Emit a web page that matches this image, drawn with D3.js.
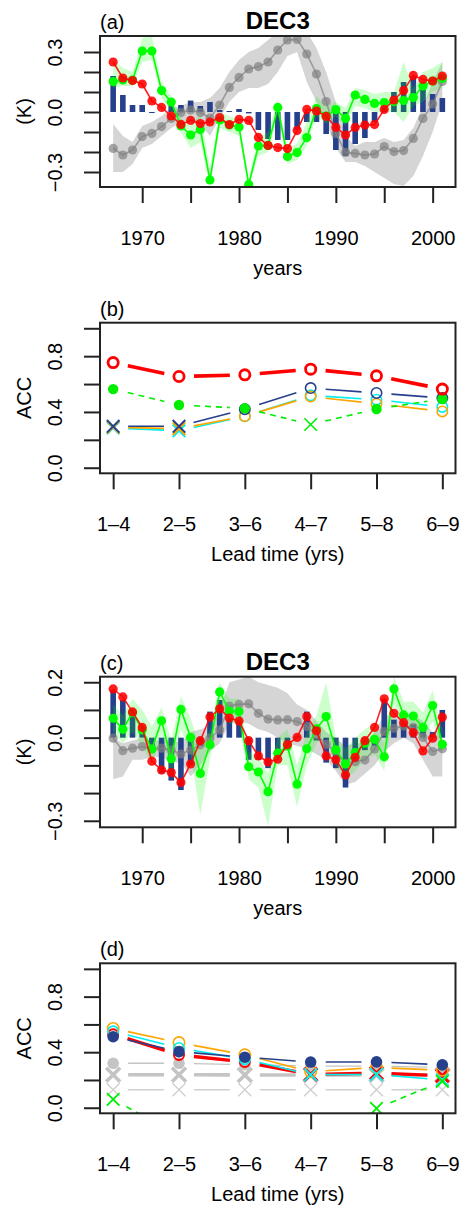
<!DOCTYPE html>
<html>
<head>
<meta charset="utf-8">
<script src="https://cdn.jsdelivr.net/npm/d3@7"></script>
<style>
  html, body { margin: 0; padding: 0; background: #fff; }
  svg { display: block; font-family: 'Liberation Sans', Arial, Helvetica, sans-serif; }
</style>
</head>
<body>
<div id="chart"></div>
<script>
// ---- data ----
const years = [1967, 1968, 1969, 1970, 1971, 1972, 1973, 1974, 1975, 1976, 1977, 1978,
  1979, 1980, 1981, 1982, 1983, 1984, 1985, 1986, 1987, 1988, 1989, 1990, 1991, 1992,
  1993, 1994, 1995, 1996, 1997, 1998, 1999, 2000, 2001];

// panel (a)
const aBars = [0.18, 0.085, 0.035, 0.035, -0.005, 0.0, 0.03, 0.035, 0.057, 0.03, 0.05, 0.01,
  0.005, 0.015, -0.007, -0.09, -0.135, -0.14, -0.14, -0.09, -0.05, -0.05, -0.11, -0.19, -0.22, -0.16,
  -0.13, -0.05, 0.05, 0.1, 0.15, 0.18, 0.12, 0.09, 0.07];
const aRed = [0.25, 0.17, 0.157, 0.14, 0.055, 0.023, -0.02, -0.062, -0.042, -0.058, -0.05, -0.028,
  -0.063, -0.037, -0.042, -0.127, -0.167, -0.178, -0.183, -0.093, 0.013, 0.005, -0.022, -0.077, -0.115, -0.077,
  -0.065, -0.063, 0.013, 0.06, 0.107, 0.183, 0.163, 0.155, 0.18];
const aGreen = [0.152, 0.16, 0.16, 0.305, 0.305, 0.107, 0.05, -0.07, -0.115, -0.088, -0.34, -0.04,
  -0.065, -0.075, -0.362, -0.17, -0.167, 0.023, -0.223, -0.203, -0.128, 0.017, -0.02, 0.012, -0.032, 0.085,
  0.063, 0.043, 0.047, 0.052, 0.057, 0.072, 0.13, 0.155, 0.168];
const aGreenLo = [0.12, 0.13, 0.13, 0.25, 0.26, 0.07, 0.0, -0.1, -0.18, -0.15, -0.37, -0.08,
  -0.1, -0.12, -0.38, -0.22, -0.2, -0.02, -0.26, -0.24, -0.17, -0.02, -0.06, -0.02, -0.07, 0.03,
  0.02, 0.0, 0.0, 0.0, -0.05, 0.03, 0.05, 0.1, 0.12];
const aGreenHi = [0.26, 0.22, 0.2, 0.37, 0.38, 0.15, 0.08, -0.03, -0.07, -0.01, -0.28, 0.0,
  -0.02, -0.04, -0.33, -0.13, -0.1, 0.06, -0.18, -0.16, -0.05, 0.08, 0.03, 0.05, 0.02, 0.12,
  0.11, 0.09, 0.1, 0.1, 0.25, 0.12, 0.2, 0.22, 0.25];
const aGray = [-0.182, -0.215, -0.19, -0.123, -0.107, -0.073, -0.032, -0.003, 0.01, -0.003, -0.03, 0.035,
  0.123, 0.173, 0.215, 0.227, 0.25, 0.31, 0.36, 0.363, 0.29, 0.19, 0.052, -0.107, -0.202, -0.207,
  -0.215, -0.21, -0.173, -0.198, -0.193, -0.132, -0.032, 0.04, 0.152];
const aGrayLo = [-0.3, -0.3, -0.26, -0.18, -0.16, -0.12, -0.08, -0.05, -0.04, -0.06, -0.12, -0.03,
  0.05, 0.1, 0.12, 0.12, 0.14, 0.2, 0.28, 0.3, 0.15, 0.05, -0.05, -0.18, -0.25, -0.25,
  -0.27, -0.3, -0.33, -0.36, -0.37, -0.32, -0.22, -0.1, 0.05];
const aGrayHi = [-0.06, -0.12, -0.15, -0.07, -0.05, -0.02, 0.02, 0.03, 0.05, 0.05, 0.07, 0.12,
  0.2, 0.26, 0.3, 0.32, 0.36, 0.4, 0.42, 0.42, 0.4, 0.32, 0.2, 0.05, -0.12, -0.17,
  -0.15, -0.15, -0.13, -0.15, -0.14, -0.08, 0.03, 0.15, 0.25];

// panel (c)
const cBars = [0.172, 0.136, 0.082, 0.03, -0.045, -0.129, -0.155, -0.189, -0.099, -0.03, 0.094, 0.136,
  0.07, 0.06, -0.08, -0.08, -0.11, -0.07, -0.045, 0.005, 0.094, -0.01, -0.09, -0.11, -0.18, -0.087,
  -0.045, -0.03, 0.14, 0.065, 0.05, 0.048, 0.04, 0.02, 0.1];
const cRed = [0.176, 0.147, 0.093, 0.037, -0.085, -0.117, -0.126, -0.162, -0.095, -0.011, 0.075, 0.104,
  0.071, 0.06, -0.011, -0.066, -0.088, -0.078, -0.025, 0.001, 0.076, 0.025, -0.066, -0.08, -0.135, -0.071,
  -0.011, 0.037, 0.14, 0.088, 0.054, 0.018, -0.048, -0.002, 0.074];
const cGreen = [0.07, 0.03, 0.09, 0.028, -0.041, 0.061, -0.076, 0.102, 0.001, -0.129, -0.026, 0.165,
  0.096, 0.094, -0.105, -0.124, -0.195, -0.056, -0.03, -0.168, -0.04, 0.032, 0.076, -0.044, -0.095, -0.054,
  -0.02, -0.006, -0.069, 0.176, 0.082, 0.078, 0.037, 0.116, -0.024];
const cGreenLo = [0.02, -0.02, 0.02, -0.03, -0.1, 0.01, -0.14, 0.03, -0.06, -0.28, -0.08, 0.12,
  0.05, 0.05, -0.15, -0.18, -0.32, -0.1, -0.1, -0.25, -0.1, -0.02, 0.0, -0.1, -0.15, -0.12,
  -0.08, -0.06, -0.12, 0.12, 0.03, 0.03, -0.01, 0.06, -0.07];
const cGreenHi = [0.12, 0.08, 0.14, 0.1, 0.04, 0.11, -0.01, 0.15, 0.07, -0.04, 0.03, 0.2,
  0.14, 0.14, -0.05, -0.07, -0.13, 0.0, 0.03, -0.1, 0.02, 0.08, 0.2, 0.0, -0.04, 0.0,
  0.03, 0.05, -0.02, 0.22, 0.13, 0.13, 0.09, 0.17, 0.03];
const cGray = [-0.002, -0.047, -0.038, -0.032, -0.041, -0.038, -0.045, -0.059, -0.045, -0.026, -0.002, 0.028,
  0.114, 0.12, 0.122, 0.088, 0.067, 0.064, 0.065, 0.058, 0.04, 0.01, -0.024, -0.05, -0.093, -0.087,
  -0.081, -0.041, 0.022, 0.034, 0.042, 0.037, 0.001, -0.05, -0.04];
const cGrayLo = [-0.15, -0.14, -0.08, -0.08, -0.07, -0.07, -0.09, -0.09, -0.14, -0.1, -0.05, -0.02,
  0.05, 0.06, 0.05, 0.03, 0.02, 0.0, -0.02, -0.03, -0.04, -0.06, -0.08, -0.12, -0.17, -0.16,
  -0.13, -0.1, -0.05, -0.02, 0.0, -0.02, -0.08, -0.14, -0.14];
const cGrayHi = [0.0, -0.02, -0.01, 0.0, -0.01, -0.01, -0.01, -0.02, 0.02, 0.03, 0.04, 0.1,
  0.2, 0.21, 0.22, 0.2, 0.19, 0.18, 0.16, 0.12, 0.1, 0.06, 0.02, 0.0, -0.03, -0.02,
  -0.02, 0.02, 0.08, 0.08, 0.08, 0.08, 0.06, 0.02, 0.03];

// panels (b) and (d): skill by lead time (1 = significant -> circle, 0 = cross)
const leads = ['1–4', '2–5', '3–6', '4–7', '5–8', '6–9'];
const bRed = [0.754, 0.654, 0.666, 0.707, 0.659, 0.564];
const bNavy = [0.297, 0.297, 0.42, 0.571, 0.536, 0.5];
const bCyan = [0.285, 0.265, 0.369, 0.519, 0.488, 0.436];
const bOrange = [0.29, 0.28, 0.37, 0.51, 0.459, 0.404];
const bGreen = [0.564, 0.45, 0.426, 0.31, 0.421, 0.493];
const bRedSig = [1, 1, 1, 1, 1, 1];
const bLineSig = [0, 0, 1, 1, 1, 1];
const bGreenSig = [1, 1, 1, 0, 1, 1];

const dRed = [0.53, 0.38, 0.33, 0.24, 0.25, 0.23];
const dNavy = [0.511, 0.404, 0.364, 0.329, 0.33, 0.309];
const dCyan = [0.55, 0.43, 0.35, 0.238, 0.24, 0.2];
const dOrange = [0.571, 0.469, 0.381, 0.26, 0.29, 0.27];
const dGreen = [0.06, -0.2, -0.25, -0.2, -0.005, 0.19];
const dGrayDot = [0.32, 0.32, 0.31, 0.3, 0.3, 0.29];
const dGrayX = [0.238, 0.238, 0.236, 0.236, 0.236, 0.236];
const dGrayX2 = [0.13, 0.13, 0.13, 0.13, 0.13, 0.13];
const dRedSig = [1, 1, 1, 0, 0, 0];
const dCyanSig = [1, 1, 1, 0, 0, 0];
const dAllSig = [1, 1, 1, 1, 1, 1];
const dNoSig = [0, 0, 0, 0, 0, 0];

// ---- layout ----
const W = 462, H = 1211;
const box = { left: 100, right: 455.5 };
const panels = {
  a: { top: 36, bottom: 187 },
  b: { top: 322.7, bottom: 473.3 },
  c: { top: 676.7, bottom: 827.3 },
  d: { top: 963.3, bottom: 1113.3 }
};

const NAVY = '#27408B';
const fmt = d3.format('.1f');

const $svg = d3.select('#chart').append('svg')
  .attr('width', W)
  .attr('height', H);
$svg.append('rect').attr('width', W).attr('height', H).attr('fill', '#fff');
const $defs = $svg.append('defs');

const xYear = d3.scaleLinear().domain([1965.64, 2002.36]).range([box.left, box.right]);
const xLead = d3.scalePoint().domain(leads).range([box.left, box.right]).padding(0.2);

function makePanel(key, yDomain) {
  const p = panels[key];
  const y = d3.scaleLinear().domain(yDomain).range([p.bottom, p.top]);
  $defs.append('clipPath').attr('id', `clip-${key}`)
    .append('rect')
    .attr('x', box.left).attr('y', p.top)
    .attr('width', box.right - box.left).attr('height', p.bottom - p.top);
  const g = $svg.append('g').attr('class', `panel panel-${key}`);
  const plot = g.append('g').attr('clip-path', `url(#clip-${key})`);
  return { p, y, g, plot };
}

function drawFrame(panel, opts) {
  const { p, y, g } = panel;
  g.append('rect')
    .attr('x', box.left).attr('y', p.top)
    .attr('width', box.right - box.left).attr('height', p.bottom - p.top)
    .attr('fill', 'none').attr('stroke', '#222').attr('stroke-width', 2);

  // y axis, rotated labels like R
  const yAx = d3.axisLeft(y)
    .tickValues(opts.yTicks)
    .tickSize(16)
    .tickFormat(d => opts.yLabels.some(l => Math.abs(l - d) < 1e-9) ? fmt(d) : '');
  const $ya = g.append('g')
    .attr('transform', `translate(${box.left},0)`)
    .call(yAx)
    .attr('font-size', 20).attr('font-family', null);
  $ya.select('.domain').remove();
  $ya.selectAll('.tick line').attr('stroke', '#222').attr('stroke-width', 2);
  $ya.selectAll('.tick text')
    .attr('x', 0).attr('dy', null)
    .attr('text-anchor', 'middle')
    .attr('fill', '#000')
    .attr('transform', 'translate(-38,0) rotate(-90)');

  const xAx = d3.axisBottom(opts.x)
    .tickValues(opts.xTicks)
    .tickSize(16)
    .tickPadding(27.5)
    .tickFormat(opts.xFormat);
  const $xa = g.append('g')
    .attr('transform', `translate(0,${p.bottom})`)
    .call(xAx)
    .attr('font-size', 20).attr('font-family', null);
  $xa.select('.domain').remove();
  $xa.selectAll('.tick line').attr('stroke', '#222').attr('stroke-width', 2);
  $xa.selectAll('.tick text').attr('fill', '#000');

  const cx = (box.left + box.right) / 2;
  g.append('text')
    .attr('x', cx).attr('y', p.bottom + 88)
    .attr('text-anchor', 'middle').attr('font-size', 20)
    .text(opts.xTitle);
  g.append('text')
    .attr('transform', `translate(31,${(p.top + p.bottom) / 2}) rotate(-90)`)
    .attr('text-anchor', 'middle').attr('font-size', 20)
    .text(opts.yTitle);
  g.append('text')
    .attr('x', box.left).attr('y', p.top - 7)
    .attr('font-size', 20)
    .text(opts.tag);
  if (opts.title) {
    g.append('text')
      .attr('x', cx).attr('y', p.top - 7)
      .attr('text-anchor', 'middle').attr('font-size', 24).attr('font-weight', 'bold')
      .text(opts.title);
  }
}

// ---- time series panels ----
function drawTimeSeries(panel, s) {
  const { y, plot } = panel;
  const band = (lo, hi) => d3.area()
    .x((d, i) => xYear(years[i]))
    .y0((d, i) => y(lo[i]))
    .y1((d, i) => y(hi[i]))(years);

  plot.append('path').attr('d', band(s.grayLo, s.grayHi))
    .attr('fill', 'rgba(150,150,150,0.4)');

  plot.selectAll('.bar')
    .data(s.bars)
    .enter().append('rect')
    .attr('class', 'bar')
    .attr('x', (d, i) => xYear(years[i]) - 2.8)
    .attr('width', 5.6)
    .attr('y', d => Math.min(y(d), y(0)))
    .attr('height', d => Math.abs(y(d) - y(0)))
    .attr('fill', NAVY);

  plot.append('path').attr('d', band(s.greenLo, s.greenHi))
    .attr('fill', 'rgba(0,255,0,0.2)');

  const line = d3.line()
    .x((d, i) => xYear(years[i]))
    .y(d => y(d));

  [[s.gray, 'rgba(128,128,128,0.7)'], [s.green, '#00ff00'], [s.red, 'rgba(255,0,0,0.88)']]
    .forEach(([vals, col]) => {
      plot.append('path').attr('d', line(vals))
        .attr('fill', 'none').attr('stroke', col).attr('stroke-width', 1.6);
      plot.append('g').selectAll('circle')
        .data(vals)
        .enter().append('circle')
        .attr('cx', (d, i) => xYear(years[i]))
        .attr('cy', d => y(d))
        .attr('r', 4.6)
        .attr('fill', col);
    });
}

// ---- lead time panels ----
function gapSegments(pts, gap) {
  const segs = [];
  for (let i = 0; i < pts.length - 1; i++) {
    const [x0, y0] = pts[i], [x1, y1] = pts[i + 1];
    const dx = x1 - x0, dy = y1 - y0, len = Math.hypot(dx, dy);
    if (len <= 2 * gap) continue;
    const ux = dx / len, uy = dy / len;
    segs.push([x0 + ux * gap, y0 + uy * gap, x1 - ux * gap, y1 - uy * gap]);
  }
  return segs;
}

function drawLeadSeries(panel, vals, sig, st) {
  const { y, plot } = panel;
  const pts = vals.map((v, i) => [xLead(leads[i]), y(v)]);
  const g = plot.append('g');
  g.selectAll('line')
    .data(gapSegments(pts, 15))
    .enter().append('line')
    .attr('x1', d => d[0]).attr('y1', d => d[1])
    .attr('x2', d => d[2]).attr('y2', d => d[3])
    .attr('stroke', st.color)
    .attr('stroke-width', st.lw)
    .attr('stroke-dasharray', st.dash || null);

  pts.forEach(([px, py], i) => {
    if (sig[i]) {
      g.append('circle')
        .attr('cx', px).attr('cy', py)
        .attr('r', st.filled ? st.r : st.r - st.ringW / 2)
        .attr('fill', st.filled ? st.color : 'none')
        .attr('stroke', st.filled ? 'none' : st.color)
        .attr('stroke-width', st.ringW);
    } else {
      const s = st.xs;
      g.append('path')
        .attr('d', `M${px - s},${py - s}L${px + s},${py + s}M${px - s},${py + s}L${px + s},${py - s}`)
        .attr('stroke', st.color)
        .attr('stroke-width', st.xw)
        .attr('fill', 'none');
    }
  });
}

const leadFrame = {
  x: xLead,
  xTicks: leads,
  xFormat: d => d,
  xTitle: 'Lead time (yrs)',
  yTicks: [0, 0.2, 0.4, 0.6, 0.8, 1.0],
  yLabels: [0, 0.4, 0.8],
  yTitle: 'ACC'
};
const yearFrame = {
  x: xYear,
  xTicks: [1970, 1975, 1980, 1985, 1990, 1995, 2000],
  xFormat: d => d % 10 === 0 ? d : '',
  xTitle: 'years',
  yTitle: '(K)',
  title: 'DEC3'
};

// (a)
const pa = makePanel('a', [-0.375, 0.38]);
drawTimeSeries(pa, {
  bars: aBars, red: aRed, green: aGreen, gray: aGray,
  greenLo: aGreenLo, greenHi: aGreenHi, grayLo: aGrayLo, grayHi: aGrayHi
});
drawFrame(pa, Object.assign({}, yearFrame, {
  yTicks: [-0.3, -0.2, -0.1, 0, 0.1, 0.2, 0.3], yLabels: [-0.3, 0, 0.3], tag: '(a)'
}));

// (b)
const pb = makePanel('b', [-0.04, 1.04]);
drawLeadSeries(pb, bCyan, bLineSig, { color: '#00eeee', lw: 1.6, r: 6, ringW: 1.6, xs: 6.3, xw: 2 });
drawLeadSeries(pb, bOrange, bLineSig, { color: '#ffa500', lw: 1.6, r: 6, ringW: 1.6, xs: 6.3, xw: 2 });
drawLeadSeries(pb, bNavy, bLineSig, { color: NAVY, lw: 1.6, r: 6, ringW: 1.6, xs: 6.3, xw: 2 });
drawLeadSeries(pb, bGreen, bGreenSig, { color: '#00ee00', lw: 1.6, r: 5.2, filled: true, xs: 6.3, xw: 1.6, dash: '6,5' });
drawLeadSeries(pb, bRed, bRedSig, { color: '#ff0000', lw: 3.6, r: 6.5, ringW: 2.8, xs: 6.5, xw: 3 });
drawFrame(pb, Object.assign({}, leadFrame, { tag: '(b)' }));

// (c)
const pc = makePanel('c', [-0.3235, 0.22]);
drawTimeSeries(pc, {
  bars: cBars, red: cRed, green: cGreen, gray: cGray,
  greenLo: cGreenLo, greenHi: cGreenHi, grayLo: cGrayLo, grayHi: cGrayHi
});
drawFrame(pc, Object.assign({}, yearFrame, {
  yTicks: [-0.3, -0.2, -0.1, 0, 0.1, 0.2], yLabels: [-0.3, 0, 0.2], tag: '(c)'
}));

// (d)
const pd = makePanel('d', [-0.04, 1.04]);
drawLeadSeries(pd, dGrayX2, dNoSig, { color: '#d0d0d0', lw: 1.4, r: 6, ringW: 1.4, xs: 6.5, xw: 1.4 });
drawLeadSeries(pd, dGrayX, dNoSig, { color: '#c4c4c4', lw: 3.6, r: 6, ringW: 2, xs: 7, xw: 3.6 });
drawLeadSeries(pd, dGrayDot, dAllSig, { color: '#c4c4c4', lw: 1.4, r: 5.8, filled: true, xs: 6, xw: 2 });
drawLeadSeries(pd, dRed, dRedSig, { color: '#ff0000', lw: 3.4, r: 6, ringW: 2, xs: 6.5, xw: 3 });
drawLeadSeries(pd, dOrange, dAllSig, { color: '#ffa500', lw: 1.6, r: 6.5, ringW: 1.6, xs: 6.3, xw: 2 });
drawLeadSeries(pd, dCyan, dCyanSig, { color: '#00eeee', lw: 1.6, r: 6, ringW: 1.6, xs: 6.3, xw: 2 });
drawLeadSeries(pd, dNavy, dAllSig, { color: NAVY, lw: 1.6, r: 5.8, filled: true, xs: 6.3, xw: 2 });
drawLeadSeries(pd, dGreen, dNoSig, { color: '#00ee00', lw: 1.6, r: 5, xs: 6.3, xw: 1.8, dash: '6,5' });
drawFrame(pd, Object.assign({}, leadFrame, { tag: '(d)' }));
</script>
</body>
</html>
